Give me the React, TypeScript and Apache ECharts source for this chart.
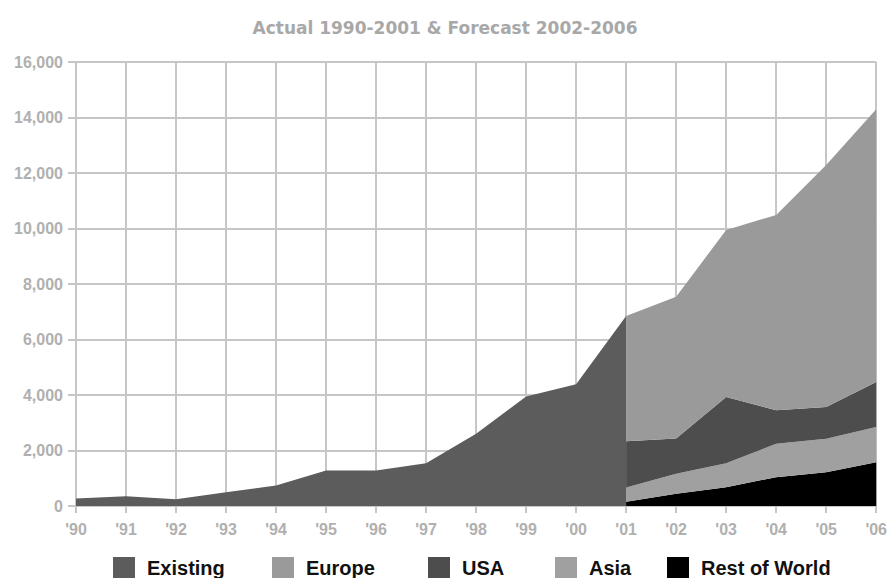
import React, { useEffect, useRef } from "react";
import * as echarts from "echarts";

// Year labels along the category axis
const years = ["'90", "'91", "'92", "'93", "'94", "'95", "'96", "'97", "'98", "'99", "'00", "'01", "'02", "'03", "'04", "'05", "'06"];

// Actual installed base, 1990-2001
const existing = [270, 350, 240, 500, 740, 1280, 1280, 1545, 2600, 3950, 4390, 6850];

// Forecast by region, 2001-2006 (stacked, bottom to top)
const restOfWorld = [150, 440, 680, 1040, 1220, 1580];
const asia = [520, 720, 865, 1205, 1205, 1265];
const usa = [1660, 1270, 2385, 1205, 1140, 1625];
const europe = [4520, 5110, 6015, 7040, 8725, 9830];

const forecastStart = 11; // index of '01
const pad = (vals: number[]) => [...Array(forecastStart).fill(null), ...vals];

const legendNames = ["Existing", "Europe", "USA", "Asia", "Rest of World"];
const legendLeft = [113, 272, 428, 555, 667];

export default function App() {
  const ref = useRef<HTMLDivElement>(null);

  useEffect(() => {
    if (!ref.current) return;
    const chart = echarts.init(ref.current, null, { renderer: "svg" });
    const gridColor = "#c6c6c6";
    const labelFont = "'Liberation Sans', Arial, sans-serif";

    const area = (name: string, data: (number | null)[], color: string, stack?: string) => ({
      name,
      type: "line" as const,
      data,
      stack,
      showSymbol: false,
      symbol: "none",
      lineStyle: { width: 0 },
      areaStyle: { color, opacity: 1 },
      itemStyle: { color },
      connectNulls: false,
    });

    chart.setOption({
      animation: false,
      backgroundColor: "#ffffff",
      title: {
        text: "Actual 1990-2001 & Forecast 2002-2006",
        left: "center",
        top: 14,
        textStyle: {
          fontFamily: "'DejaVu Sans', sans-serif",
          fontWeight: "bold",
          fontSize: 17,
          color: "#a8a8a8",
        },
      },
      legend: legendNames.map((n, i) => ({
        data: [n],
        left: legendLeft[i],
        top: 557,
        padding: 0,
        itemWidth: 22,
        itemHeight: 22,
        icon: "rect",
        selectedMode: false,
        textStyle: {
          fontFamily: labelFont,
          fontWeight: "bold",
          fontSize: 20,
          color: "#111111",
          padding: [0, 0, 0, 7],
        },
      })),
      grid: { left: 76, right: 11, top: 62, bottom: 72 },
      xAxis: {
        type: "category",
        data: years,
        boundaryGap: false,
        axisLine: { show: true, lineStyle: { color: gridColor, width: 2 } },
        axisTick: { show: true, length: 7, lineStyle: { color: gridColor, width: 2 } },
        axisLabel: {
          margin: 15,
          fontFamily: labelFont,
          fontWeight: "bold",
          fontSize: 16,
          color: "#b0b0b0",
        },
        splitLine: { show: true, lineStyle: { color: gridColor, width: 2 } },
      },
      yAxis: {
        type: "value",
        min: 0,
        max: 16000,
        interval: 2000,
        axisLine: { show: true, lineStyle: { color: gridColor, width: 2 } },
        axisTick: { show: true, length: 8, lineStyle: { color: gridColor, width: 2 } },
        axisLabel: {
          margin: 13,
          fontFamily: labelFont,
          fontWeight: "bold",
          fontSize: 16,
          color: "#b0b0b0",
          formatter: (v: number) => v.toLocaleString("en-US"),
        },
        splitLine: { show: true, lineStyle: { color: gridColor, width: 2 } },
      },
      series: [
        area("Existing", existing, "#5c5c5c"),
        area("Rest of World", pad(restOfWorld), "#000000", "forecast"),
        area("Asia", pad(asia), "#a0a0a0", "forecast"),
        area("USA", pad(usa), "#4d4d4d", "forecast"),
        area("Europe", pad(europe), "#9a9a9a", "forecast"),
      ],
    });

    return () => chart.dispose();
  }, []);

  return (
    <div
      ref={ref}
      style={{ position: "absolute", left: 0, top: 0, width: 890, height: 578 }}
    />
  );
}
